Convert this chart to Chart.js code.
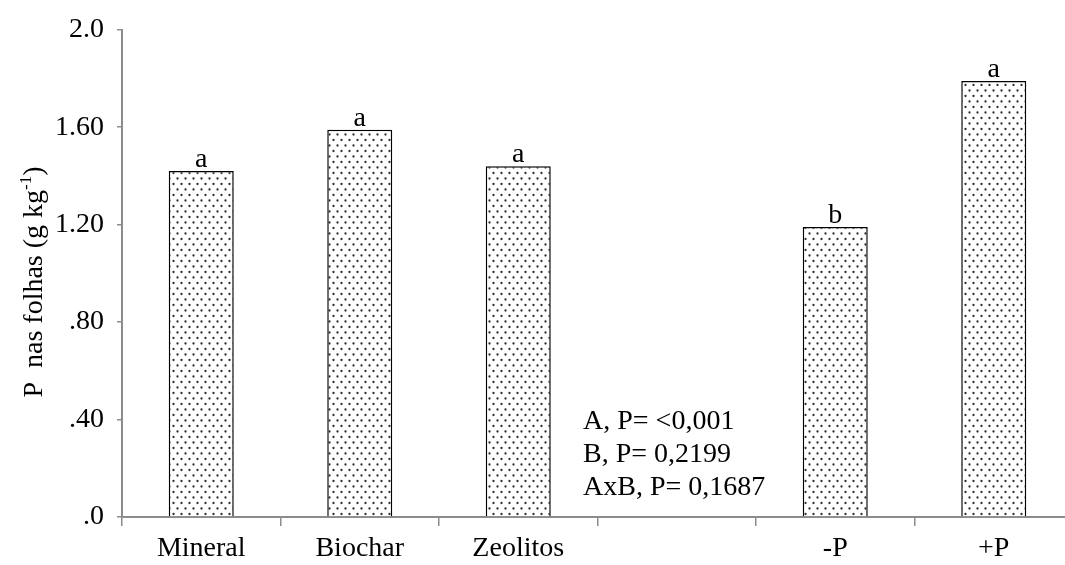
<!DOCTYPE html>
<html>
<head>
<meta charset="utf-8">
<script src="https://cdn.jsdelivr.net/npm/chart.js@4"></script>
<style>
  html, body { margin: 0; padding: 0; background: #fff; overflow: hidden; }
  #wrap { width: 1065px; height: 565px; overflow: hidden; }
  canvas { display: block; }
</style>
</head>
<body>
<div id="wrap"><canvas id="chart" width="1075" height="565"></canvas></div>
<script>
  // Data
  const categories = ["Mineral", "Biochar", "Zeolitos", "", "-P", "+P"];
  const leafP      = [1.42, 1.59, 1.44, null, 1.19, 1.79];
  const letters    = ["a", "a", "a", "", "b", "a"];
  const yTickLabels = [".0", ".40", ".80", "1.20", "1.60", "2.0"];
  const statLines  = ["A, P= <0,001", "B, P= 0,2199", "AxB, P= 0,1687"];

  const FONT = "'Liberation Serif', 'Times New Roman', serif";
  const SIZE = 28;
  const axisGrey = "#8c8c8c";

  // dotted fill like the Excel pattern
  const makeDots = () => {
    const c = document.createElement("canvas");
    c.width = 8; c.height = 11;
    const g = c.getContext("2d");
    g.fillStyle = "#fff";
    g.fillRect(0, 0, 8, 11);
    g.fillStyle = "#2e2e2e";
    [[1.5, 2.5], [5.5, 8]].forEach(([x, y]) => {
      g.beginPath(); g.arc(x, y, 1.15, 0, Math.PI * 2); g.fill();
    });
    return g.createPattern(c, "repeat");
  };
  const dotFill = makeDots();

  const extras = {
    id: "extras",
    afterDatasetsDraw(chart) {
      const { ctx } = chart;
      const meta = chart.getDatasetMeta(0);
      ctx.save();
      ctx.fillStyle = "#000";
      ctx.font = SIZE + "px " + FONT;
      ctx.textAlign = "center";
      ctx.textBaseline = "alphabetic";
      meta.data.forEach((bar, i) => {
        if (leafP[i] == null || !letters[i]) return;
        ctx.fillText(letters[i], bar.x, bar.y - 4);
      });

      // significance text
      ctx.textAlign = "left";
      statLines.forEach((t, i) => ctx.fillText(t, 583, 429 + i * 33));

      // rotated y title with superscript
      ctx.translate(42, 282);
      ctx.rotate(-Math.PI / 2);
      const main = "P  nas folhas (g kg";
      ctx.font = SIZE + "px " + FONT;
      const w1 = ctx.measureText(main).width;
      ctx.font = "17px " + FONT;
      const w2 = ctx.measureText("-1").width;
      ctx.font = SIZE + "px " + FONT;
      const w3 = ctx.measureText(")").width;
      let x = -(w1 + w2 + w3) / 2;
      ctx.fillText(main, x, 0); x += w1;
      ctx.font = "17px " + FONT;
      ctx.fillText("-1", x, -11); x += w2;
      ctx.font = SIZE + "px " + FONT;
      ctx.fillText(")", x, 0);
      ctx.restore();
    },
  };

  new Chart(document.getElementById("chart"), {
    type: "bar",
    data: {
      labels: categories,
      datasets: [{
        data: leafP,
        backgroundColor: dotFill,
        borderColor: "#000",
        borderWidth: 1.5,
        barPercentage: 0.41,
        categoryPercentage: 1,
      }],
    },
    options: {
      responsive: false,
      animation: false,
      layout: { padding: { top: 29, right: 2, left: 0, bottom: 0 } },
      plugins: { legend: { display: false }, tooltip: { enabled: false } },
      scales: {
        x: {
          grid: {
            display: true, drawOnChartArea: false, drawTicks: true,
            tickLength: 9, color: axisGrey, lineWidth: 1.5, offset: true,
          },
          border: { display: true, color: axisGrey, width: 2 },
          ticks: { color: "#000", font: { family: FONT, size: SIZE }, padding: 6, maxRotation: 0 },
          afterFit: (s) => { s.height = 48; },
        },
        y: {
          min: 0, max: 2,
          grid: {
            display: true, drawOnChartArea: false, drawTicks: true,
            tickLength: 5, color: axisGrey, lineWidth: 1.5,
          },
          border: { display: true, color: axisGrey, width: 2 },
          ticks: {
            stepSize: 0.4, color: "#000", padding: 13,
            font: { family: FONT, size: SIZE },
            callback: (v, i) => yTickLabels[i],
          },
          afterFit: (s) => { s.width = 122; },
        },
      },
    },
    plugins: [extras],
  });
</script>
</body>
</html>
